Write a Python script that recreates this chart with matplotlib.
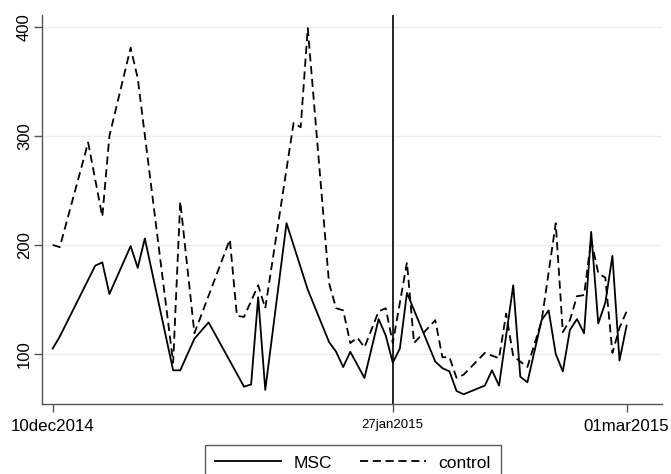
import datetime
import numpy as np
import matplotlib
matplotlib.use('Agg')
import matplotlib.pyplot as plt
import matplotlib.dates as mdates

plt.rcParams['font.family'] = ['Liberation Sans', 'DejaVu Sans']

start = mdates.date2num(datetime.datetime(2014, 12, 10))

# days after 10dec2014 and daily counts
msc_day = [0, 1, 6, 7, 8, 11, 12, 13, 17, 18, 20, 22, 27, 28, 29, 30, 33, 36, 39, 40,
           41, 42, 44, 46, 47, 48, 49, 50, 54, 55, 56, 57, 58, 61, 62, 63, 65, 66, 67,
           69, 70, 71, 72, 73, 74, 75, 76, 77, 78, 79, 80, 81]
msc_val = [105, 116, 181, 184, 155, 199, 179, 206, 85, 85, 114, 129, 70, 72, 152, 67, 220, 159, 111, 102,
           88, 102, 78, 132, 117, 92, 105, 156, 93, 87, 84, 66, 63, 71, 85, 71, 163, 79, 74,
           131, 140, 100, 84, 122, 132, 119, 212, 128, 147, 190, 94, 126]

ctl_day = [0, 1, 5, 7, 8, 11, 12, 17, 18, 20, 25, 26, 27, 29, 30, 34, 35, 36, 39, 40,
           41, 42, 43, 44, 46, 47, 48, 50, 51, 54, 55, 56, 57, 58, 61, 63, 64, 65, 67,
           69, 71, 72, 73, 74, 75, 76, 77, 78, 79, 80, 81]
ctl_val = [200, 198, 294, 226, 300, 381, 353, 92, 240, 119, 205, 135, 134, 163, 142, 312, 308, 399, 165, 142,
           140, 110, 115, 106, 139, 142, 110, 184, 110, 131, 97, 97, 78, 81, 101, 96, 137, 98, 88,
           130, 220, 120, 131, 153, 154, 205, 174, 170, 101, 124, 139]

tick_days = [0, 48, 81]
tick_labels = ['10dec2014', '27jan2015', '01mar2015']
event_day = 48

fig = plt.figure(figsize=(6.71, 4.74), dpi=100)
ax = fig.add_axes([0.0622, 0.1477, 0.9244, 0.8207])

ax.plot(start + np.array(msc_day), msc_val, color='black', lw=1.3, label='MSC')
ax.plot(start + np.array(ctl_day), ctl_val, color='black', lw=1.3, dashes=(4.5, 2.6), label='control')
ax.axvline(start + event_day, color='black', lw=1.2)

ax.set_xlim(start - 1.55, start + 86.0)
ax.set_ylim(54.1, 411)

ax.set_yticks([100, 200, 300, 400])
ax.set_yticklabels(['100', '200', '300', '400'], rotation=90, va='center', fontsize=12)
ax.yaxis.grid(True, color='#ececec', lw=1)
ax.set_axisbelow(True)

ax.set_xticks(start + np.array(tick_days))
ax.set_xticklabels(tick_labels, fontsize=12.2)
ax.get_xticklabels()[1].set_fontsize(9.5)

for s in ['top', 'right']:
    ax.spines[s].set_visible(False)
for s in ['left', 'bottom']:
    ax.spines[s].set_color('#555555')
    ax.spines[s].set_linewidth(1.0)
ax.tick_params(axis='both', length=5.5, width=1.0, color='#555555')
ax.tick_params(axis='y', pad=1.5)
ax.tick_params(axis='x', pad=5)

# legend box runs off the bottom edge like the original
leg = fig.legend(loc='upper center', bbox_to_anchor=(0.526, 1 - 445/474), ncol=2,
                 fontsize=12.5, frameon=True, fancybox=False, handlelength=3.8,
                 handletextpad=0.7, columnspacing=1.6, borderpad=0.6, borderaxespad=0)
leg.get_frame().set_edgecolor('#333333')
leg.get_frame().set_linewidth(1.0)

plt.savefig('out.png', dpi=100)
